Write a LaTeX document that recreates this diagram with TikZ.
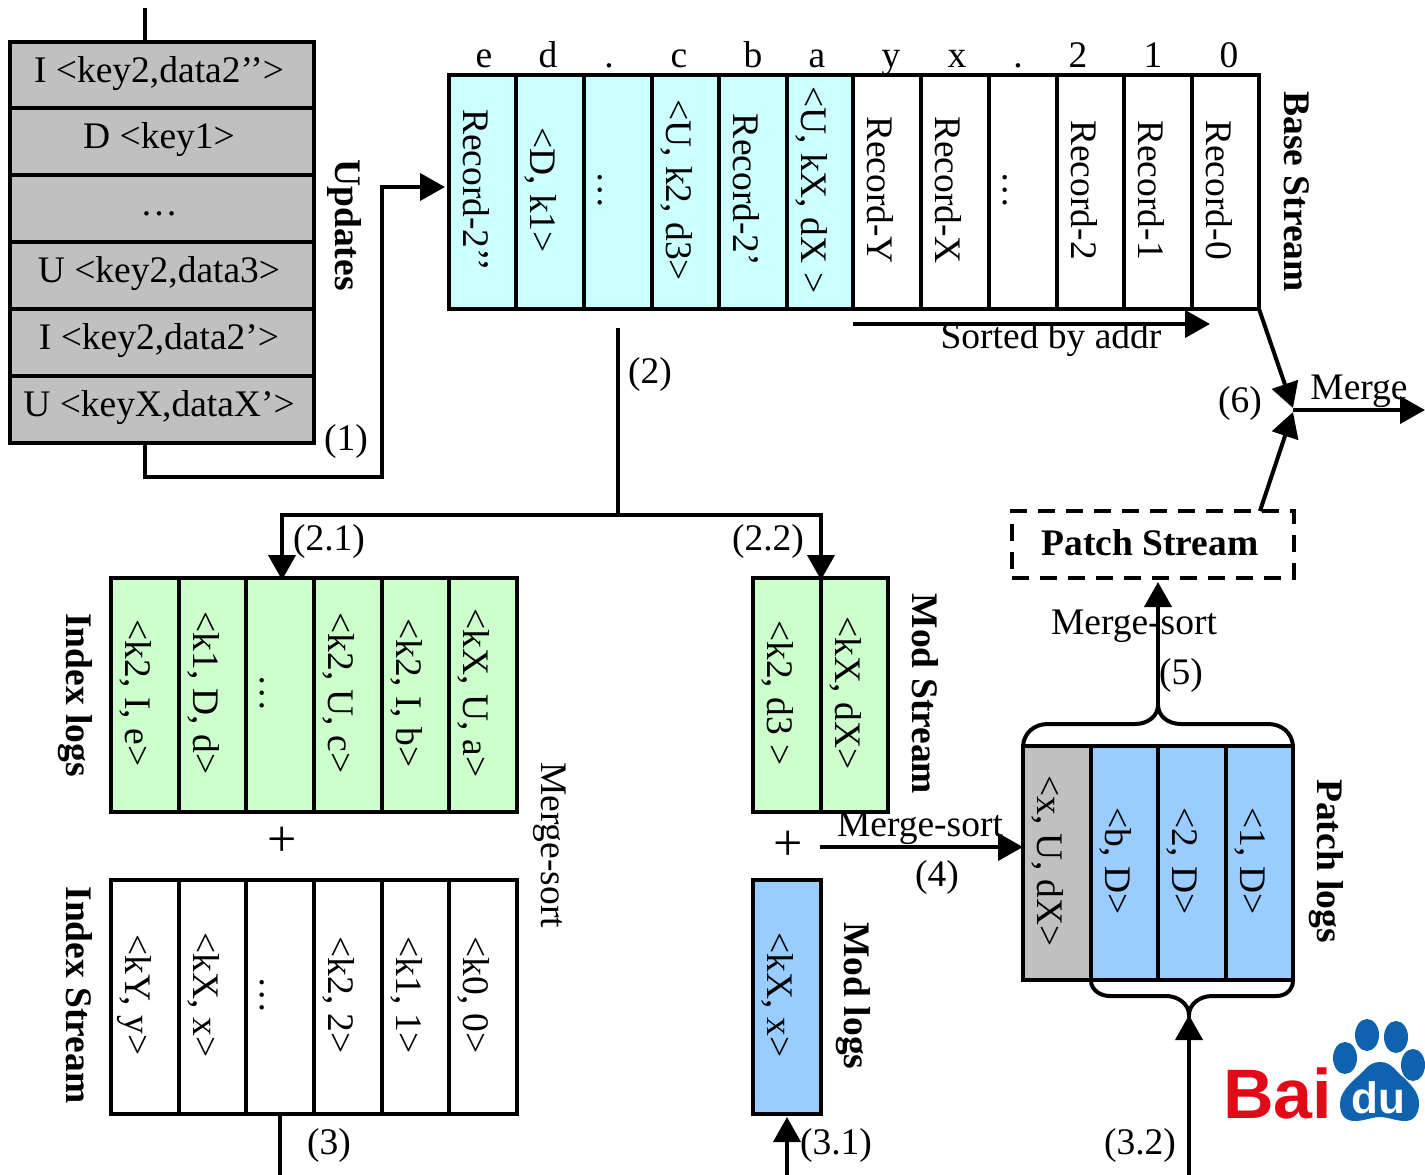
\documentclass[tikz,border=0pt]{standalone}
\usepackage{fontspec}
\setmainfont{Liberation Serif}
\newfontfamily\logofont{Liberation Sans}
\usetikzlibrary{arrows.meta}
\definecolor{cyanc}{HTML}{CCFFFF}
\definecolor{greenc}{HTML}{CCFFCC}
\definecolor{bluec}{HTML}{99CCFF}
\definecolor{grayc}{HTML}{C0C0C0}
\definecolor{baiRed}{HTML}{E10A17}
\definecolor{duBlue}{HTML}{0F62AE}
\tikzset{
  txt/.style={font=\fontsize{37.5}{40}\selectfont, inner sep=0pt, text=black},
  lbl/.style={txt, yshift=-2pt},
  btm/.style={txt, anchor=base},
  rtxt/.style={txt, rotate=-90, anchor=base},
  btxt/.style={rtxt, font=\fontsize{37.5}{40}\selectfont\bfseries},
  plusm/.style={inner sep=0pt, font=\fontsize{52}{54}\selectfont},
  cellbox/.style={draw=black, line width=4pt, inner sep=0pt, minimum width=#1},
  conn/.style={draw=black, line width=4pt},
  arr/.style={conn, -{Triangle[length=25pt,width=27pt]}},
}
% name, x1, x2, y1, y2, fill, text
\newcommand\vcell[7]{%
  \node[cellbox={(#3-#2)*1pt}, minimum height={(#5-#4)*1pt}, fill=#6] (#1) at ({(#2+#3)/2},{(#4+#5)/2}) {};
  \node[rtxt] (#1t) at ({#2+14},{(#4+#5)/2-2}) {#7};
}
% name, y1, y2, text
\newcommand\hcell[4]{%
  \node[cellbox={304pt}, minimum height={(#3-#2)*1pt}, fill=grayc] (#1) at (162,{(#2+#3)/2}) {};
  \node[btm] (#1t) at (159,{#2+40}) {#4};
}
\begin{document}
\begin{tikzpicture}[x=1pt,y=-1pt]
\useasboundingbox (0,0) rectangle (1425,1175);
% update stack
\hcell{u1}{42}{108}{I <key2,data2’’>}
\hcell{u2}{108}{175}{D <key1>}
\hcell{u3}{175}{242}{…}
\hcell{u4}{242}{309}{U <key2,data3>}
\hcell{u5}{309}{376}{I <key2,data2’>}
\hcell{u6}{376}{443}{U <keyX,dataX’>}
\node[btxt] (updates) at (335,225) {Updates};
% base stream
\vcell{b1}{449}{516}{75}{309}{cyanc}{Record-2’’}
\vcell{b2}{516}{584}{75}{309}{cyanc}{<D, k1>}
\vcell{b3}{584}{652}{75}{309}{cyanc}{…}
\vcell{b4}{652}{719}{75}{309}{cyanc}{<U, k2, d3>}
\vcell{b5}{719}{787}{75}{309}{cyanc}{Record-2’}
\vcell{b6}{787}{853}{75}{309}{cyanc}{<U, kX, dX >}
\vcell{b7}{853}{921}{75}{309}{white}{Record-Y}
\vcell{b8}{921}{989}{75}{309}{white}{Record-X}
\vcell{b9}{989}{1057}{75}{309}{white}{…}
\vcell{b10}{1057}{1124}{75}{309}{white}{Record-2}
\vcell{b11}{1124}{1192}{75}{309}{white}{Record-1}
\vcell{b12}{1192}{1259}{75}{309}{white}{Record-0}
\node[btxt] (basel) at (1284,191.5) {Base Stream};
\node[btm] (le) at (484,67) {e};
\node[btm] (ld) at (548,67) {d};
\node[btm] (ldot1) at (609,67) {.};
\node[btm] (lc) at (679,67) {c};
\node[btm] (lb) at (753,67) {b};
\node[btm] (la) at (817,67) {a};
\node[btm] (ly) at (891,67) {y};
\node[btm] (lx) at (957,67) {x};
\node[btm] (ldot2) at (1018,67) {.};
\node[btm] (l2) at (1078,67) {2};
\node[btm] (l1) at (1153,67) {1};
\node[btm] (l0) at (1229,67) {0};
% index logs
\vcell{i1}{111}{179}{578}{812}{greenc}{<k2, I, e>}
\vcell{i2}{179}{246}{578}{812}{greenc}{<k1, D, d>}
\vcell{i3}{246}{314}{578}{812}{greenc}{…}
\vcell{i4}{314}{382}{578}{812}{greenc}{<k2, U, c>}
\vcell{i5}{382}{449}{578}{812}{greenc}{<k2, I, b>}
\vcell{i6}{449}{517}{578}{812}{greenc}{<kX, U, a>}
\node[btxt] (indexl) at (66,695) {Index logs};
\node[plusm] (plus1) at (282,842) {+};
% index stream
\vcell{s1}{111}{179}{880}{1114}{white}{<kY, y>}
\vcell{s2}{179}{246}{880}{1114}{white}{<kX, x>}
\vcell{s3}{246}{314}{880}{1114}{white}{…}
\vcell{s4}{314}{382}{880}{1114}{white}{<k2, 2>}
\vcell{s5}{382}{449}{880}{1114}{white}{<k1, 1>}
\vcell{s6}{449}{517}{880}{1114}{white}{<k0, 0>}
\node[btxt] (indexs) at (66,995) {Index Stream};
\node[rtxt] (msl) at (541,845) {Merge-sort};
% mod stream / logs
\vcell{m1}{753}{821}{578}{812}{greenc}{<k2, d3 >}
\vcell{m2}{821}{888}{578}{812}{greenc}{<kX, dX>}
\node[btxt] (mods) at (912,694) {Mod Stream};
\node[plusm] (plus2) at (788,846) {+};
\vcell{ml}{753}{821}{880}{1114}{bluec}{<kX, x>}
\node[btxt] (modl) at (844,996) {Mod logs};
% patch logs
\vcell{p1}{1023}{1091}{746}{980}{grayc}{<x, U, dX>}
\vcell{p2}{1091}{1158}{746}{980}{bluec}{<b, D>}
\vcell{p3}{1158}{1226}{746}{980}{bluec}{<2, D>}
\vcell{p4}{1226}{1293}{746}{980}{bluec}{<1, D>}
\node[btxt] (patchl) at (1317,861) {Patch logs};
% patch stream
\node[draw=black, line width=4pt, dash pattern=on 17pt off 11pt, minimum width=282pt, minimum height=67pt, inner sep=0pt,
      font=\fontsize{37.5}{40}\selectfont\bfseries] (ps) at (1153,544.5) {\raisebox{5pt}{\kern-6pt Patch Stream}};
% free ends and bends
\coordinate (topin) at (145,8);
\coordinate (u1top) at (145,42);
\coordinate (u6bot) at (145,443);
\coordinate (j1a) at (145,477);
\coordinate (j1b) at (382,477);
\coordinate (j1c) at (382,187);
\coordinate (b1in) at (445,187);
\coordinate (s2a) at (618,328);
\coordinate (s2b) at (618,515);
\coordinate (s21) at (282,515);
\coordinate (s22) at (821,515);
\coordinate (i3in) at (282,580);
\coordinate (m1in) at (821,580);
\coordinate (sortA) at (853,324);
\coordinate (sortB) at (1210,324);
\coordinate (mA) at (820,847);
\coordinate (mB) at (1023,847);
\coordinate (in3) at (280,1175);
\coordinate (s3top) at (280,1114);
\coordinate (in31) at (787,1175);
\coordinate (ml31) at (787,1117);
\coordinate (in32) at (1189,1175);
\coordinate (br32) at (1189,1015);
\coordinate (brT) at (1158,705);
\coordinate (psin) at (1158,582);
\coordinate (brcr) at (1259,309);
\coordinate (mtop) at (1293,408);
\coordinate (psout) at (1260,511);
\coordinate (mbot) at (1293,412);
\coordinate (mgo) at (1293,410);
\coordinate (mend) at (1425,410);
% connectors
\draw[conn] (topin) -- (u1top);
\draw[arr] (u6bot) -- (j1a) -- (j1b) -- (j1c) -- (b1in);
\draw[conn] (s2a) -- (s2b);
\draw[arr] (s2b) -- (s21) -- (i3in);
\draw[arr] (s2b) -- (s22) -- (m1in);
\draw[arr] (sortA) -- (sortB);
\draw[arr] (mA) -- (mB);
\draw[conn] (s3top) -- (in3);
\draw[arr] (in31) -- (ml31);
\draw[arr] (in32) -- (br32);
\draw[arr] (brT) -- (psin);
\draw[arr] (brcr) -- (mtop);
\draw[arr] (psout) -- (mbot);
\draw[arr] (mgo) -- (mend);
% braces
\draw[conn] (1023,746) .. controls (1024,733) and (1034,724) .. (1048,724) -- (1135,724)
  .. controls (1148,724) and (1158,716) .. (brT)
  .. controls (1158,716) and (1168,724) .. (1181,724) -- (1268,724)
  .. controls (1282,724) and (1292,733) .. (1293,746);
\draw[conn] (1091,982) .. controls (1092,990) and (1100,996) .. (1110,996) -- (1166,996)
  .. controls (1178,996) and (1189,1004) .. (br32)
  .. controls (1189,1004) and (1200,996) .. (1212,996) -- (1276,996)
  .. controls (1286,996) and (1292,990) .. (1293,982);
% labels
\node[lbl] (lab1) at (346,439) {(1)};
\node[lbl] (lab2) at (650,372) {(2)};
\node[lbl] (lab21) at (329,539) {(2.1)};
\node[lbl] (lab22) at (768,539) {(2.2)};
\node[lbl] (lab3) at (329,1143) {(3)};
\node[lbl] (lab31) at (836,1143) {(3.1)};
\node[lbl] (lab32) at (1140,1143) {(3.2)};
\node[lbl] (lab4) at (937,875) {(4)};
\node[lbl] (lab5) at (1181,673) {(5)};
\node[lbl] (lab6) at (1240,401) {(6)};
\node[lbl] (sorted) at (1051,338) {Sorted by addr};
\node[lbl] (merge) at (1359,389) {Merge};
\node[lbl] (ms4) at (920,826) {Merge-sort};
\node[lbl] (ms5) at (1134,624) {Merge-sort};
% Baidu logo
\fill[duBlue] (1345,1058) ellipse [x radius=12, y radius=16];
\fill[duBlue] (1367,1035) ellipse [x radius=12, y radius=16];
\fill[duBlue] (1396,1037) ellipse [x radius=12, y radius=16];
\fill[duBlue] (1413,1065) ellipse [x radius=12, y radius=16];
\fill[duBlue] (1380,1062) .. controls (1368,1062) and (1364,1072) .. (1357,1077)
  .. controls (1350,1084) and (1340,1092) .. (1340,1104)
  .. controls (1340,1116) and (1346,1121) .. (1355,1121)
  .. controls (1364,1121) and (1372,1117) .. (1380,1117)
  .. controls (1388,1117) and (1396,1121) .. (1405,1121)
  .. controls (1414,1121) and (1419,1114) .. (1419,1103)
  .. controls (1419,1092) and (1410,1084) .. (1403,1077)
  .. controls (1396,1072) and (1392,1062) .. (1380,1062) -- cycle;
\node[font=\logofont\bfseries\fontsize{70}{72}\selectfont, text=baiRed, inner sep=0pt, anchor=base west] (bai) at (1223,1118) {Bai};
\node[font=\logofont\bfseries\fontsize{44}{46}\selectfont, text=white, inner sep=0pt, anchor=base] (du) at (1378,1113) {du};
\end{tikzpicture}
\end{document}
